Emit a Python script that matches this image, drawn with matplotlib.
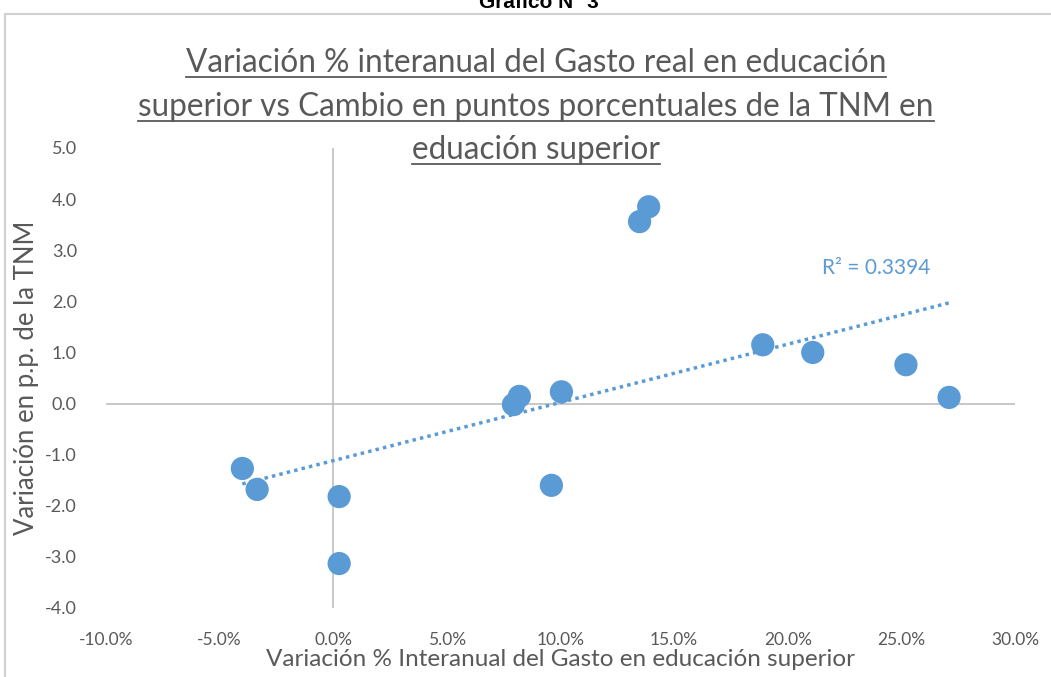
import numpy as np
import matplotlib.pyplot as plt
from matplotlib.patches import Rectangle
from matplotlib.ticker import FuncFormatter

# variacion % interanual del gasto (x) vs cambio en p.p. de la TNM (y)
gasto = [-4.0, -3.35, 0.26, 0.26, 7.93, 8.19, 10.04, 9.6, 13.48, 13.88, 18.9, 21.1, 25.2, 27.1]
tnm = [-1.27, -1.68, -1.82, -3.13, -0.02, 0.14, 0.23, -1.6, 3.56, 3.85, 1.15, 1.0, 0.76, 0.12]
r2_label = "R² = 0.3394"

title_lines = [
    "Variación % interanual del Gasto real en educación",
    "superior vs Cambio en puntos porcentuales de la TNM en",
    "eduación superior",
]

blue = "#5B9BD5"
gray = "#595959"
plt.rcParams['font.family'] = ['Lato', 'DejaVu Sans']

fig = plt.figure(figsize=(10.51, 6.77), dpi=100)
W, H = 1051, 677
ax = fig.add_axes([106 / W, 1 - 608 / H, (1015 - 106) / W, (608 - 148) / H])

# outer chart border
fig.patches.append(Rectangle((5 / W, -0.01), 1.05, 1 - 14 / H + 0.01, transform=fig.transFigure,
                             fill=False, edgecolor="#D0D0D0", linewidth=1.5))
fig.text(0.513, 0.997, "Gráfico N° 3", ha="center", va="center", fontsize=15,
         fontweight="bold", family="Liberation Sans", color="black")

ax.set_xlim(-10, 30)
ax.set_ylim(-4, 5)
for s in ax.spines.values():
    s.set_visible(False)
ax.axhline(0, color="#BFBFBF", lw=1.2, zorder=1)
ax.axvline(0, color="#BFBFBF", lw=1.2, zorder=1)

ax.scatter(gasto, tnm, s=280, color=blue, zorder=3, edgecolors="none")

# linear trend
m, b = np.polyfit(gasto, tnm, 1)
xs = np.array([min(gasto), max(gasto)])
ax.plot(xs, m * xs + b, ls=(0, (1, 1.2)), color=blue, lw=2.5, zorder=2)
ax.text(21.5, 2.66, r2_label, color=blue, fontsize=15, va="center")

ax.set_xticks(np.arange(-10, 31, 5))
ax.set_yticks(np.arange(-4, 5.1, 1))
ax.xaxis.set_major_formatter(FuncFormatter(lambda v, p: f"{v:.1f}%"))
ax.yaxis.set_major_formatter(FuncFormatter(lambda v, p: f"{v:.1f}"))
ax.tick_params(length=0, labelsize=12.5, colors=gray)
ax.tick_params(axis="x", pad=17)
ax.tick_params(axis="y", pad=21, labelsize=13)
ax.set_xlabel("Variación % Interanual del Gasto en educación superior", fontsize=17.5, color=gray, labelpad=1)
ax.set_ylabel("Variación en p.p. de la TNM", fontsize=18.5, color=gray, labelpad=4)

# underlined title, three lines
title_y = [63, 107, 150]
texts = []
for line, ty in zip(title_lines, title_y):
    texts.append(fig.text(536 / W, 1 - ty / H, line, ha="center", va="center",
                          fontsize=22.7, color=gray))
fig.canvas.draw()
r = fig.canvas.get_renderer()
for t in texts:
    bb = t.get_window_extent(r).transformed(fig.transFigure.inverted())
    yline = bb.y0 + 0.002
    fig.add_artist(plt.Line2D([bb.x0, bb.x1], [yline, yline], transform=fig.transFigure,
                              color=gray, lw=1.3))

fig.savefig("out.png", dpi=100)
